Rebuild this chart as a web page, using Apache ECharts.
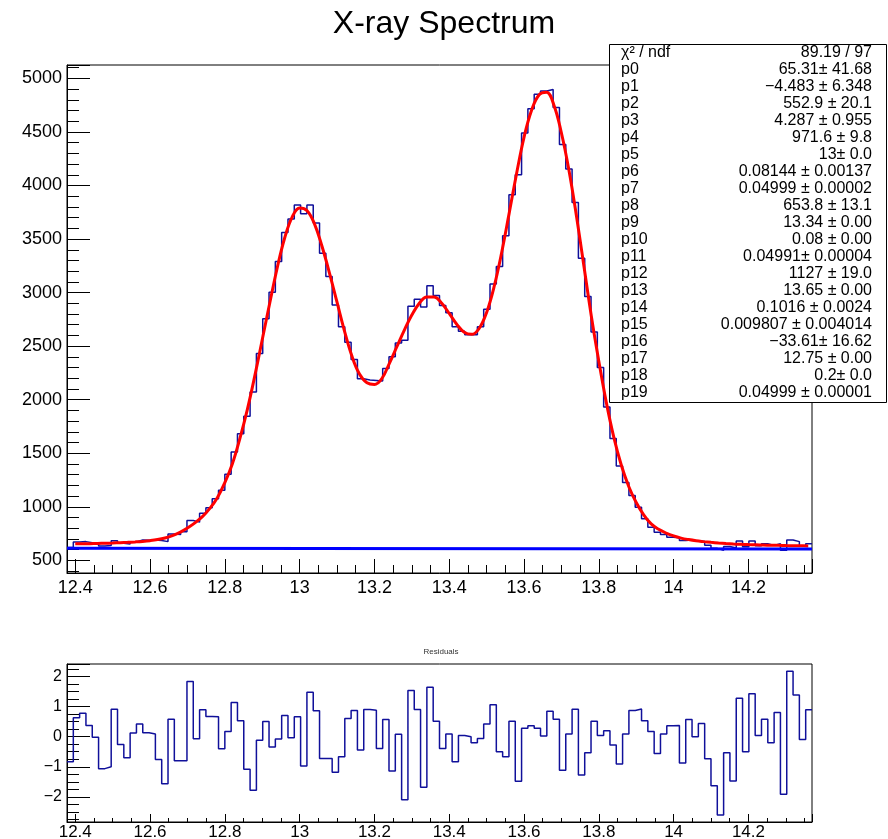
<!DOCTYPE html>
<html>
<head>
<meta charset="utf-8">
<script src="https://cdn.jsdelivr.net/npm/echarts@6/dist/echarts.min.js"></script>
<style>
html,body{margin:0;padding:0;background:#fff;}
#chart{width:888px;height:839px;}
</style>
</head>
<body>
<div id="chart"></div>
<script>
// ---------------- data ----------------
const X_MIN = 12.378;          // histogram lower edge
const X_MAX = 14.370;          // histogram upper edge
const N_BINS = 118;

const counts = [
 620, 672, 675, 665, 655, 635, 638, 683, 660, 652,
 672, 690, 688, 690, 685, 675, 745, 742, 766, 872,
 857, 941, 991, 1075, 1155, 1305, 1512, 1683, 1846, 2073,
 2432, 2757, 3003, 3290, 3562, 3686, 3818, 3736, 3818, 3649,
 3368, 3150, 2885, 2680, 2536, 2376, 2195, 2185, 2180, 2175,
 2292, 2401, 2530, 2555, 2872, 2938, 2866, 3064, 2973, 2880,
 2813, 2680, 2638, 2607, 2607, 2682, 2844, 3081, 3243, 3530,
 3914, 4101, 4491, 4716, 4852, 4882, 4897, 4728, 4382, 4154,
 3842, 3321, 2963, 2632, 2300, 1933, 1637, 1381, 1228, 1106,
 997, 888, 810, 763, 741, 716, 710, 685, 691, 679,
 679, 640, 612, 595, 630, 615, 680, 628, 680, 636,
 655, 640, 656, 595, 690, 675, 632, 655
];

const residuals = [
 -0.83, 0.63, 0.78, 0.37, -0.02, -1.06, -1.00, 0.91, -0.26, -0.70,
 0.12, 0.42, 0.13, 0.09, -0.76, -1.56, 0.58, -0.80, -0.80, 1.83,
 -0.07, 0.89, 0.67, 0.66, -0.40, 0.17, 1.13, 0.53, -1.08, -1.78,
 -0.12, 0.50, -0.34, -0.08, 0.70, -0.04, 0.66, -0.97, 1.47, 0.86,
 -0.72, -0.72, -1.18, -0.67, 0.60, 0.87, -0.44, 0.90, 0.88, -0.39,
 0.57, -1.14, 0.08, -2.09, 1.53, 0.90, -1.68, 1.64, 0.51, -0.39,
 0.09, -0.83, 0.04, 0.00, -0.20, -0.06, 0.42, 1.06, -0.50, -0.67,
 0.51, -1.48, 0.28, 0.36, 0.28, 0.02, 0.84, 0.58, -1.11, 0.09,
 0.91, -1.27, -0.53, 0.51, 0.04, 0.20, -0.28, -0.91, 0.09, 0.87,
 0.92, 0.53, 0.17, -0.56, 0.09, 0.36, 0.37, -0.87, 0.57, 0.00,
 0.44, -0.73, -1.63, -2.60, -0.53, -1.47, 1.27, -0.50, 1.42, 0.04,
 0.58, -0.20, 0.80, -1.91, 2.17, 1.38, -0.09, 0.89
];

// fit curve (red), every 0.02
const fitX = [
 12.40, 12.42, 12.44, 12.46, 12.48, 12.50, 12.52, 12.54, 12.56, 12.58,
 12.60, 12.62, 12.64, 12.66, 12.68, 12.70, 12.72, 12.74, 12.76, 12.78,
 12.80, 12.82, 12.84, 12.86, 12.88, 12.90, 12.92, 12.94, 12.96, 12.98,
 13.00, 13.02, 13.04, 13.06, 13.08, 13.10, 13.12, 13.14, 13.16, 13.18,
 13.20, 13.22, 13.24, 13.26, 13.28, 13.30, 13.32, 13.34, 13.36, 13.38,
 13.40, 13.42, 13.44, 13.46, 13.48, 13.50, 13.52, 13.54, 13.56, 13.58,
 13.60, 13.62, 13.64, 13.66, 13.68, 13.70, 13.72, 13.74, 13.76, 13.78,
 13.80, 13.82, 13.84, 13.86, 13.88, 13.90, 13.92, 13.94, 13.96, 13.98,
 14.00, 14.02, 14.04, 14.06, 14.08, 14.10, 14.12, 14.14, 14.16, 14.18,
 14.20, 14.22, 14.24, 14.26, 14.28, 14.30, 14.32, 14.34, 14.36];
const fitY = [
 654, 655, 656, 658, 660, 662, 665, 668, 672, 677,
 684, 694, 709, 731, 762, 802, 850, 908, 985, 1085,
 1225, 1400, 1635, 1905, 2220, 2560, 2900, 3230, 3510, 3705,
 3790, 3765, 3640, 3430, 3180, 2910, 2640, 2405, 2240, 2158,
 2143, 2198, 2340, 2495, 2650, 2790, 2900, 2960, 2958, 2900,
 2805, 2705, 2630, 2610, 2665, 2815, 3055, 3370, 3735, 4110,
 4450, 4700, 4845, 4870, 4750, 4490, 4145, 3720, 3250, 2780,
 2360, 1975, 1650, 1390, 1190, 1040, 925, 840, 790, 755,
 728, 708, 694, 683, 675, 668, 662, 657, 653, 650,
 647, 645, 643, 641, 640, 638, 637, 636, 635];

// background line (blue)
const bkgX = [12.378, 14.370];
const bkgY = [612, 607];

// stats box
const statNames = ['χ² / ndf','p0','p1','p2','p3','p4','p5','p6','p7','p8','p9',
 'p10','p11','p12','p13','p14','p15','p16','p17','p18','p19'];
const statValues = ['89.19 / 97','65.31± 41.68','−4.483 ± 6.348','552.9 ± 20.1','4.287 ± 0.955',
 '971.6 ± 9.8','13± 0.0','0.08144 ± 0.00137','0.04999 ± 0.00002','653.8 ± 13.1',
 '13.34 ± 0.00','0.08 ± 0.00','0.04991± 0.00004','1127 ± 19.0','13.65 ± 0.00',
 '0.1016 ± 0.0024','0.009807 ± 0.004014','−33.61± 16.62','12.75 ± 0.00','0.2± 0.0',
 '0.04999 ± 0.00001'];

const titleText = 'X-ray Spectrum';
const residTitle = 'Residuals';

// axis ranges
const MAIN_Y = [382, 5125];
const RES_Y = [-2.83, 2.41];

// ---------------- build ----------------
const FONT = '"Liberation Sans", Arial, Helvetica, sans-serif';
const HCOL = '#10109a';

function stepData(vals) {
  const w = (X_MAX - X_MIN) / N_BINS;
  const d = vals.map((v, k) => [X_MIN + k * w, v]);
  d.push([X_MAX, vals[vals.length - 1]]);
  return d;
}
const pairs = (xs, ys) => xs.map((x, i) => [x, ys[i]]);

function xAxisCfg(gridIndex, fontSize, margin, majorLen, minorLen) {
  return {
    type: 'value', gridIndex, min: X_MIN, max: X_MAX,
    splitNumber: 10, minInterval: 0.2, maxInterval: 0.2,
    axisLine: { show: true, onZero: false, lineStyle: { color: '#000', width: 1 } },
    axisTick: { show: true, inside: true, length: majorLen, lineStyle: { color: '#000', width: 1 } },
    minorTick: { show: true, splitNumber: 4, length: minorLen, lineStyle: { color: '#000', width: 1 } },
    splitLine: { show: false },
    axisLabel: { show: true, showMinLabel: false, showMaxLabel: false, margin,
      color: '#000', fontSize, fontFamily: FONT, formatter: v => String(+v.toFixed(3)) }
  };
}
function yAxisCfg(gridIndex, min, max, split, minInt, minorSplit, fontSize, margin, minus) {
  return {
    type: 'value', gridIndex, min, max,
    splitNumber: split, minInterval: minInt, maxInterval: minInt,
    axisLine: { show: true, onZero: false, lineStyle: { color: '#000', width: 1 } },
    axisTick: { show: true, inside: true, length: 23, lineStyle: { color: '#000', width: 1 } },
    minorTick: { show: true, splitNumber: minorSplit, length: 12, lineStyle: { color: '#000', width: 1 } },
    splitLine: { show: false },
    axisLabel: { show: true, showMinLabel: false, showMaxLabel: false, margin,
      color: '#000', fontSize, fontFamily: FONT,
      formatter: v => { const s = String(+(+v).toFixed(3)); return minus ? s.replace('-', '−') : s; } }
  };
}

const statChildren = [{
  type: 'rect', shape: { x: 609.5, y: 44.5, width: 277, height: 358 },
  style: { fill: '#fff', stroke: '#000', lineWidth: 1 }
}];
statNames.forEach((n, i) => {
  const y = 53 + i * 16.97;
  statChildren.push({ type: 'text', x: 621, y,
    style: { text: n, fill: '#000', font: '16px ' + FONT, textAlign: 'left', textVerticalAlign: 'middle' } });
  statChildren.push({ type: 'text', x: 872, y,
    style: { text: statValues[i], fill: '#000', font: '16px ' + FONT, textAlign: 'right', textVerticalAlign: 'middle' } });
});

const chart = echarts.init(document.getElementById('chart'), null, { renderer: 'canvas' });
chart.setOption({
  backgroundColor: '#fff',
  animation: false,
  title: [{ text: titleText, left: 'center', top: 3,
    textStyle: { fontSize: 32, fontWeight: 'normal', color: '#000', fontFamily: FONT } }],
  grid: [
    { left: 67, top: 65, width: 745, height: 508, show: true, borderColor: '#000', borderWidth: 1,
      backgroundColor: 'transparent', containLabel: false, outerBoundsMode: 'none' },
    { left: 67, top: 664, width: 745, height: 158, show: true, borderColor: '#000', borderWidth: 1,
      backgroundColor: 'transparent', containLabel: false, outerBoundsMode: 'none' }
  ],
  xAxis: [ xAxisCfg(0, 18, 6, 14, 8), xAxisCfg(1, 17, 2, 8, 4) ],
  yAxis: [
    yAxisCfg(0, MAIN_Y[0], MAIN_Y[1], 10, 500, 5, 18, 5, false),
    yAxisCfg(1, RES_Y[0], RES_Y[1], 5, 1, 4, 16, 5, true)
  ],
  series: [
    { type: 'line', xAxisIndex: 0, yAxisIndex: 0, step: 'end', symbol: 'none',
      data: stepData(counts), lineStyle: { color: HCOL, width: 1.5 }, z: 2 },
    { type: 'line', xAxisIndex: 0, yAxisIndex: 0, symbol: 'none', smooth: 0.4,
      data: pairs(fitX, fitY), lineStyle: { color: '#ff0000', width: 3 }, z: 3 },
    { type: 'line', xAxisIndex: 0, yAxisIndex: 0, symbol: 'none',
      data: pairs(bkgX, bkgY), lineStyle: { color: '#0000ff', width: 3 }, z: 4 },
    { type: 'line', xAxisIndex: 1, yAxisIndex: 1, step: 'end', symbol: 'none',
      data: stepData(residuals), lineStyle: { color: HCOL, width: 1.5 }, z: 2 }
  ],
  graphic: [
    { type: 'text', x: 441, y: 652, z: 50,
      style: { text: residTitle, fill: '#333', font: '8px ' + FONT, textAlign: 'center', textVerticalAlign: 'middle' } },
    { type: 'group', z: 100, children: statChildren }
  ]
});
</script>
</body>
</html>
